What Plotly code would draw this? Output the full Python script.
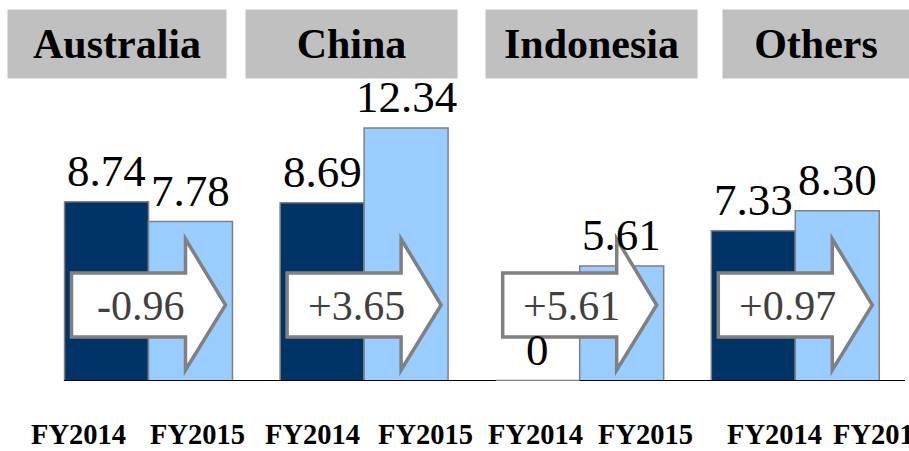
import plotly.graph_objects as go

# ---- data ----
regions = ["Australia", "China", "Indonesia", "Others"]
years = ["FY2014", "FY2015"]
fy2014 = [8.74, 8.69, 0, 7.33]
fy2015 = [7.78, 12.34, 5.61, 8.30]

# ---- layout constants (pixels in a 909x451 canvas) ----
W, H = 909, 451
PLOT_H = 381               # plot area height (baseline at y=381)
PX_PER_UNIT_X = 215.6
CENTER0 = 148.5
PX_PER_UNIT_Y = 20.5
BARGAP = 0.221

serif = "Liberation Serif, Times New Roman, serif"
navy = "#003366"
light = "#99ccff"
edge = "#808080"

xs = list(range(len(regions)))
half = (1 - BARGAP) / 2

fig = go.Figure()
fig.add_trace(go.Bar(
    x=xs, y=fy2014, name=years[0],
    marker=dict(color=navy, line=dict(color=edge, width=1.5)),
))
fig.add_trace(go.Bar(
    x=xs, y=fy2015, name=years[1],
    marker=dict(color=light, line=dict(color=edge, width=1.5)),
))

def py2paper(py):
    return (PLOT_H - py) / PLOT_H

shapes = []
annotations = []

# baseline
shapes.append(dict(type="line", xref="paper", yref="y",
                   x0=64 / W, x1=905 / W, y0=0, y1=0,
                   line=dict(color="black", width=2), layer="above"))

# zero-height bars drawn as a thin outline
for i, v in enumerate(fy2014):
    if v == 0:
        shapes.append(dict(type="line", xref="x", yref="y",
                           x0=i - half, x1=i, y0=0, y1=0,
                           line=dict(color=edge, width=2.5), layer="above"))

# arrows with change values
xl, xh, xt = -77 / PX_PER_UNIT_X, 37 / PX_PER_UNIT_X, 77 / PX_PER_UNIT_X
yb0, yb1 = py2paper(273), py2paper(337)
yh0, yh1 = py2paper(239), py2paper(370)
ym = py2paper(305)
for i, (a, b) in enumerate(zip(fy2014, fy2015)):
    path = (f"M {i+xl},{yb0} L {i+xh},{yb0} L {i+xh},{yh0} L {i+xt},{ym} "
            f"L {i+xh},{yh1} L {i+xh},{yb1} L {i+xl},{yb1} Z")
    shapes.append(dict(type="path", xref="x", yref="paper", path=path,
                       fillcolor="white", line=dict(color=edge, width=3.5),
                       layer="above"))
    d = round(b - a, 2)
    label = f"{d:+.2f}" if d != 0 else "0.00"
    annotations.append(dict(x=i - 8 / PX_PER_UNIT_X, y=py2paper(306),
                            xref="x", yref="paper", text=label, showarrow=False,
                            xanchor="center", yanchor="middle",
                            font=dict(family=serif, size=42, color="#404040")))

# value labels above bars
for series, off in ((fy2014, -half / 2), (fy2015, half / 2)):
    for i, v in enumerate(series):
        annotations.append(dict(x=i + off, y=v, xref="x", yref="y",
                                xanchor="center", yanchor="bottom", showarrow=False,
                                yshift=5, borderpad=0,
                                text=f"{v:.2f}" if v else "0",
                                font=dict(family=serif, size=45, color="black")))

# region header boxes
hdr_centers = [117, 351.5, 591.5, 816]
hdr_widths = [218, 211, 211, 186]
for name, c, w in zip(regions, hdr_centers, hdr_widths):
    annotations.append(dict(x=c / W, y=py2paper(43.5), xref="paper", yref="paper",
                            xanchor="center", yanchor="middle",
                            width=w, height=68, borderpad=0,
                            bgcolor="#c0c0c0", showarrow=False,
                            text=f"<b>{name}</b>",
                            font=dict(family=serif, size=42, color="black")))

# year labels under bars
year_label_px = [78, 197, 312, 425, 535, 645, 774, 880]
for k, px in enumerate(year_label_px):
    annotations.append(dict(x=px / W, y=py2paper(451), xref="paper", yref="paper",
                            xanchor="center", yanchor="bottom", showarrow=False,
                            borderpad=0,
                            text=f"<b>{years[k % 2]}</b>",
                            font=dict(family=serif, size=28.5, color="black")))

fig.update_layout(
    width=W, height=H,
    margin=dict(l=0, r=0, t=0, b=H - PLOT_H, pad=0),
    paper_bgcolor="white", plot_bgcolor="white",
    barmode="group", bargap=BARGAP, bargroupgap=0,
    showlegend=False,
    xaxis=dict(range=[-CENTER0 / PX_PER_UNIT_X, (W - CENTER0) / PX_PER_UNIT_X],
               showgrid=False, zeroline=False, showticklabels=False,
               showline=False, ticks=""),
    yaxis=dict(range=[0, PLOT_H / PX_PER_UNIT_Y], showgrid=False, zeroline=False,
               showticklabels=False, showline=False, ticks=""),
    shapes=shapes, annotations=annotations,
)

fig.write_html("out.html",
               config={"displayModeBar": False},
               post_script="document.body.style.margin='0';document.body.style.overflow='hidden';")
